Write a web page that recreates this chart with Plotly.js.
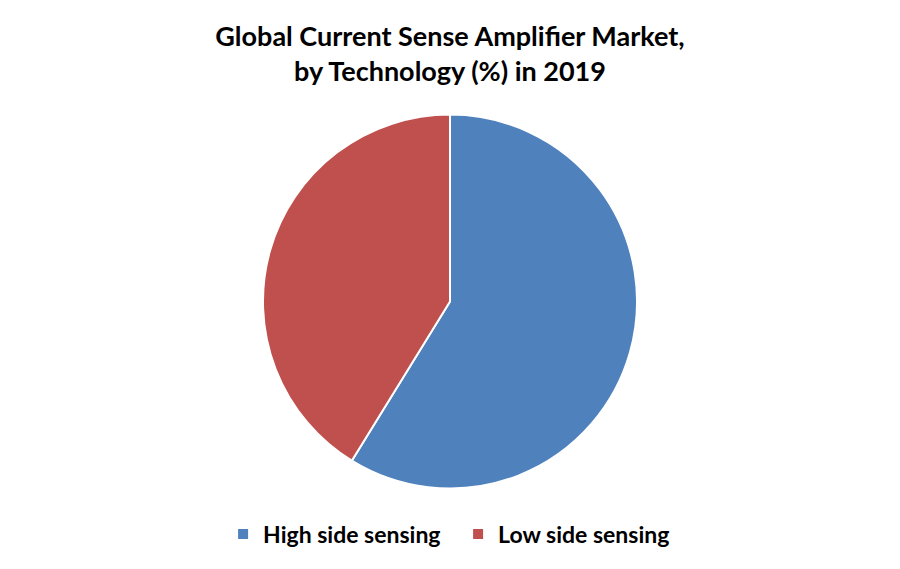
<!DOCTYPE html>
<html>
<head>
<meta charset="utf-8">
<script src="https://cdn.plot.ly/plotly-3.0.1.min.js"></script>
<style>html,body{margin:0;padding:0;background:#fff;}#chart{width:900px;height:569px;}</style>
</head>
<body>
<div id="chart"></div>
<script>
const categories = ["High side sensing", "Low side sensing"];
const shares = [58.8, 41.2];
const colors = ["#4F81BD", "#C0504D"];

const data = [{
  type: "pie",
  labels: categories,
  values: shares,
  sort: false,
  direction: "clockwise",
  rotation: 0,
  textinfo: "none",
  hoverinfo: "label+percent",
  marker: {colors: colors, line: {color: "#ffffff", width: 2}},
  domain: {x: [0.2922, 0.7078], y: [0.1406, 0.7996]}
}];

const layout = {
  width: 900,
  height: 569,
  margin: {l: 0, r: 0, t: 0, b: 0},
  paper_bgcolor: "#ffffff",
  title: {
    text: "<b>Global Current Sense Amplifier Market,<br>by Technology (%) in 2019</b>",
    font: {family: "Lato, 'Open Sans', sans-serif", size: 27, color: "#000000"},
    x: 0.5, xanchor: "center",
    y: 1 - 46/569, yanchor: "middle", yref: "container"
  },
  showlegend: true,
  legend: {
    orientation: "h",
    x: 0.509, xanchor: "center",
    y: 1 - 534/569, yanchor: "middle",
    font: {family: "Lato, 'Open Sans', sans-serif", size: 23, color: "#000000", weight: "bold"},
    traceorder: "normal",
    entrywidth: 190,
    entrywidthmode: "pixels"
  }
};

Plotly.newPlot("chart", data, layout, {displayModeBar: false});
</script>
</body>
</html>
